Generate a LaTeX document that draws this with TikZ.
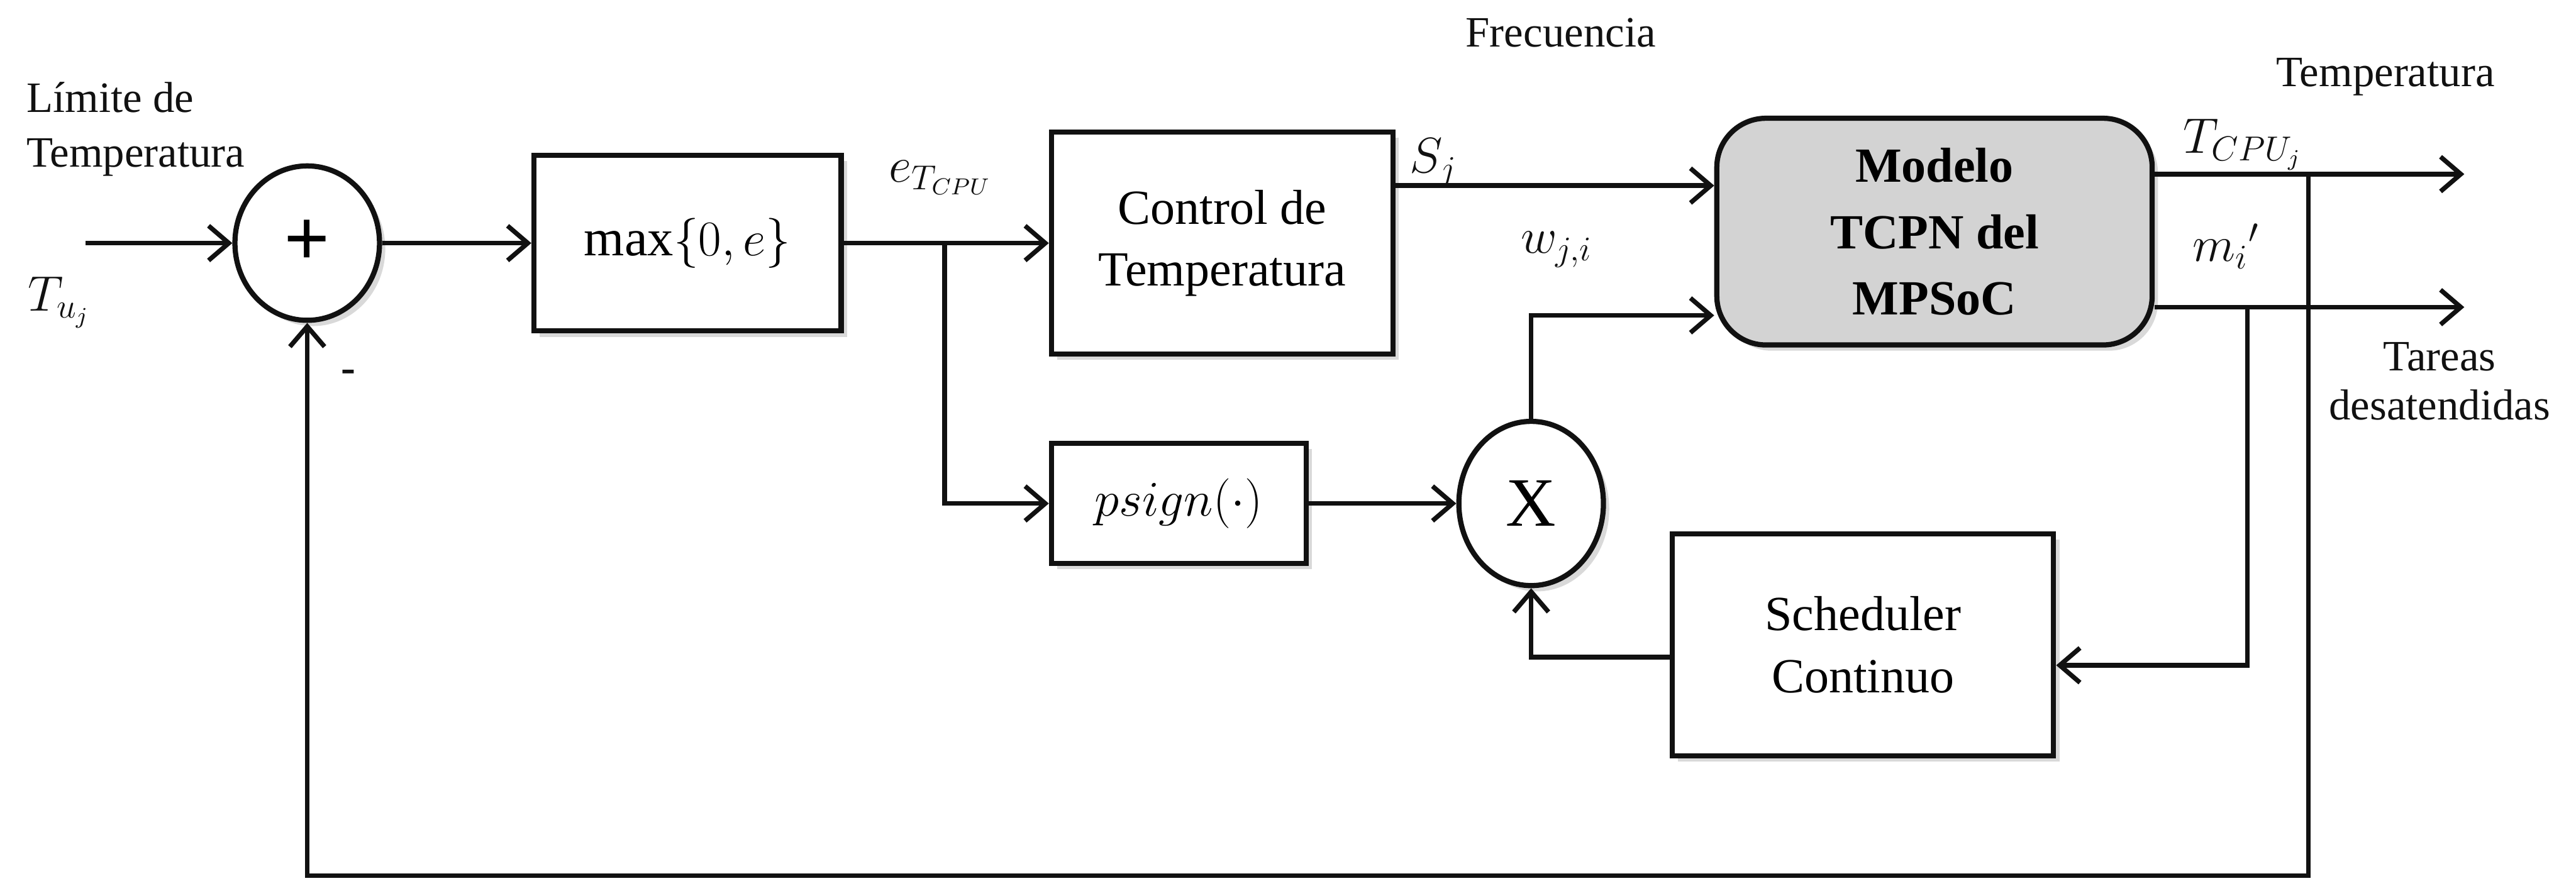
\documentclass[tikz,border=0pt]{standalone}
\usepackage{fontspec}
\setmainfont{Liberation Serif}
\usetikzlibrary{positioning, calc, arrows.meta, shapes.geometric, shadows}
\definecolor{Ink}{HTML}{111111}
\definecolor{ModelFill}{HTML}{D3D3D3}
\tikzset{
    blocknode/.style={rectangle, draw=Ink, line width=1.8pt, fill=white, align=center, font=\fontsize{17}{21.5}\selectfont, drop shadow={shadow xshift=2pt, shadow yshift=-2pt, opacity=0.3}},
    modelnode/.style={blocknode, rounded corners=17pt, fill=ModelFill, font=\bfseries\fontsize{17}{23}\selectfont},
    sumnode/.style={ellipse, draw=Ink, line width=1.8pt, fill=white, minimum width=1.76cm, minimum height=1.88cm, inner sep=0pt, drop shadow={shadow xshift=2pt, shadow yshift=-2pt, opacity=0.3}},
    sig/.style={-{Straight Barb[length=7pt, width=12pt, line width=1.6pt]}, line width=1.6pt, color=Ink},
    wire/.style={line width=1.6pt, color=Ink},
    lbl/.style={font=\fontsize{15}{19}\selectfont, text=Ink, align=center},
    mathlbl/.style={font=\fontsize{17}{20}\selectfont, text=Ink},
}

\begin{document}
\begin{tikzpicture}
    \useasboundingbox (0,0) rectangle (31.36,-10.72);

    % Bloques
    \node[sumnode] (sum) at (3.74,-2.96) {\fontsize{28}{28}\selectfont\bfseries +};
    \node[blocknode, minimum width=3.74cm, minimum height=2.14cm] (maxb) at (8.37,-2.96) {\fontsize{18}{20}\selectfont$\max\{0,e\}$};
    \node[blocknode, minimum width=4.16cm, minimum height=2.7cm] (ctrl) at (14.88,-2.96) {Control de\\Temperatura};
    \node[modelnode, minimum width=5.3cm, minimum height=2.76cm] (tcpn) at (23.55,-2.82) {Modelo\\TCPN del\\MPSoC};
    \node[blocknode, minimum width=3.1cm, minimum height=1.46cm] (psign) at (14.35,-6.13) {\fontsize{16}{18}\selectfont$psign(\cdot)$};
    \node[sumnode, minimum height=2.0cm] (prod) at (18.64,-6.13) {\fontsize{24}{24}\selectfont X};
    \node[blocknode, minimum width=4.64cm, minimum height=2.7cm] (sched) at (22.68,-7.85) {Scheduler\\Continuo};

    % Puntos auxiliares
    \coordinate (inp) at (1.04,-2.96);
    \coordinate (split) at (11.5,-2.96);
    \coordinate (sjy) at (0,-2.26);
    \coordinate (wy) at (0,-3.84);
    \coordinate (tout) at (30.0,-2.12);
    \coordinate (mout) at (30.0,-3.74);
    \coordinate (tfb) at (28.1,-2.12);
    \coordinate (mfb) at (27.36,-3.74);
    \coordinate (schin) at (0,-8.1);
    \coordinate (schout) at (0,-8.0);
    \coordinate (bottom) at (28.1,-10.66);

    % Conexiones
    \draw[sig] (inp) -- (sum.west);
    \draw[sig] (sum.east) -- (maxb.west);
    \draw[sig] (maxb.east) -- (ctrl.west);
    \draw[sig] (split) |- (psign.west);
    \draw[sig] (ctrl.east |- sjy) -- (tcpn.west |- sjy);
    \draw[sig] (psign.east) -- (prod.west);
    \draw[sig] (prod.north) |- (tcpn.west |- wy);
    \draw[sig] (tcpn.east |- tout) -- (tout);
    \draw[sig] (tcpn.east |- mout) -- (mout);
    \draw[sig] (mfb) |- (sched.east |- schin);
    \draw[sig] (sched.west |- schout) -| (prod.south);
    \draw[sig] (tfb) -- (bottom) -| (sum.south);

    % Etiquetas
    \node[lbl, align=left, anchor=west] (limlbl) at (0.2,-1.57) {Límite de\\Temperatura};
    \node[mathlbl] (tulbl) at (0.72,-3.68) {$T_{u_j}$};
    \node[lbl] (minuslbl) at (4.24,-4.58) {\textbf{-}};
    \node[mathlbl] (elbl) at (11.45,-2.16) {$e_{T_{CPU}}$};
    \node[mathlbl] (sjlbl) at (17.45,-1.98) {$S_j$};
    \node[lbl] (freclbl) at (19.0,-0.4) {Frecuencia};
    \node[mathlbl] (wlbl) at (18.95,-3.04) {$w_{j,i}$};
    \node[mathlbl] (tcpulbl) at (27.3,-1.76) {$T_{CPU_j}$};
    \node[mathlbl] (mlbl) at (27.1,-3.0) {${m_i}'$};
    \node[lbl] (templbl) at (29.04,-0.94) {Temperatura};
    \node[lbl, font=\fontsize{15}{17}\selectfont] (tarlbl) at (29.7,-4.64) {Tareas\\desatendidas};
\end{tikzpicture}
\end{document}
